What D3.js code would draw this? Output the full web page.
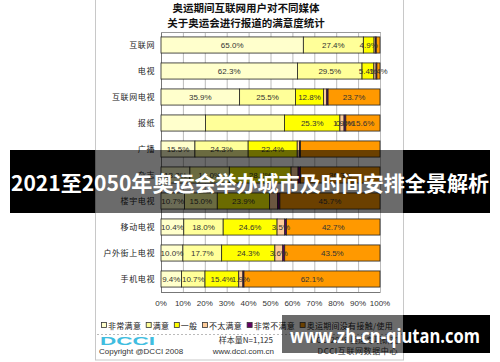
<!DOCTYPE html>
<html>
<head>
<meta charset="utf-8">
<title>奥运期间互联网用户媒体满意度</title>
<script src="https://cdnjs.cloudflare.com/ajax/libs/d3/7.8.5/d3.min.js"></script>
<style>
  body { margin: 0; background: #fff; }
  svg { display: block; }
</style>
</head>
<body>
<div id="chart"></div>
<script>
// data
var categories = ["互联网", "电视", "互联网电视", "报纸", "广播", "杂志", "楼宇电视", "移动电视", "户外街上电视", "手机电视"];
var seriesNames = ["非常满意", "满意", "一般", "不太满意", "非常不满意", "奥运期间没有接触/使用"];
var verySatisfied   = [65.0, 62.3, 35.9, 20.3, 15.5, 13.2, 10.7, 10.4, 10.0, 9.4];
var satisfied       = [27.4, 29.5, 25.5, 36.1, 24.3, 18.0, 15.0, 18.0, 17.7, 10.7];
var neutral         = [4.9, 5.4, 12.8, 25.3, 22.4, 28.2, 23.9, 24.6, 24.3, 15.4];
var unsatisfied     = [0.6, 1.0, 1.5, 1.9, 1.0, 3.2, 3.6, 3.5, 3.6, 1.9];
var veryUnsatisfied = [0.4, 0.4, 0.6, 0.8, 0.5, 1.1, 1.1, 0.8, 0.9, 0.5];
var notUsed         = [1.7, 1.4, 23.7, 15.6, 36.3, 36.3, 45.7, 42.7, 43.5, 62.1];
var xTicks = [0, 10, 20, 30, 40, 50, 60, 70, 80, 90, 100];
// labels the original leaves out / forces in
var hiddenLabels = ["报纸-0", "报纸-1", "广播-5", "杂志-3", "楼宇电视-3"];
var forcedLabels = ["报纸-4", "电视-5"];

var colors = ["#FFFFCC", "#FFFF99", "#FFFF00", "#FFCC99", "#660066", "#FF9900"];
var allSeries = [verySatisfied, satisfied, neutral, unsatisfied, veryUnsatisfied, notUsed];

var W = 500, H = 362;
var svg = d3.select("#chart").append("svg").attr("width", W).attr("height", H);
svg.append("rect").attr("width", W).attr("height", H).attr("fill", "#fff");

// panel frame
svg.append("rect").attr("x", 95.5).attr("y", -2).attr("width", 308).attr("height", 362)
    .attr("fill", "#fff").attr("stroke", "#c8c8c8");

var cjk = "'Noto Sans CJK SC', 'Noto Sans', sans-serif";
var lat = "'Liberation Sans', 'DejaVu Sans', sans-serif";

// title
svg.append("text").attr("x", 246).attr("y", 11.5).attr("text-anchor", "middle")
    .attr("font-family", cjk).attr("font-size", 10.5).attr("font-weight", "bold").attr("fill", "#111")
    .text("奥运期间互联网用户对不同媒体");
svg.append("text").attr("x", 246).attr("y", 26.5).attr("text-anchor", "middle")
    .attr("font-family", cjk).attr("font-size", 10.5).attr("font-weight", "bold").attr("fill", "#111")
    .text("关于奥运会进行报道的满意度统计");

var x = d3.scaleLinear().domain([0, 100]).range([161, 380]);
var y = d3.scaleBand().domain(categories).range([32, 292]).paddingInner(0.38).paddingOuter(0.19);

// grid
var g = svg.append("g");
g.selectAll("line.grid").data(xTicks).enter().append("line")
    .attr("x1", d => x(d) + 0.5).attr("x2", d => x(d) + 0.5)
    .attr("y1", 32).attr("y2", 292)
    .attr("stroke", d => d === 0 ? "#777" : "#bbb").attr("stroke-width", 1);
g.append("line").attr("x1", 161).attr("x2", 380.5).attr("y1", 32.5).attr("y2", 32.5).attr("stroke", "#999");
g.append("line").attr("x1", 161).attr("x2", 380.5).attr("y1", 292.5).attr("y2", 292.5).attr("stroke", "#777");

// stacked segments
var stackData = categories.map(function (c, i) {
    var o = { cat: c };
    seriesNames.forEach(function (s, j) { o[s] = allSeries[j][i]; });
    return o;
});
var stack = d3.stack().keys(seriesNames)(stackData);

var layers = svg.selectAll("g.layer").data(stack).enter().append("g")
    .attr("fill", (d, i) => colors[i]);
layers.selectAll("rect").data(d => d).enter().append("rect")
    .attr("x", d => x(d[0]))
    .attr("y", d => y(d.data.cat))
    .attr("width", d => x(d[1]) - x(d[0]))
    .attr("height", y.bandwidth())
    .attr("stroke", "#222").attr("stroke-width", 0.8);

// segment labels
stack.forEach(function (layer, j) {
    layer.forEach(function (d) {
        var key = d.data.cat + "-" + j;
        var v = d[1] - d[0];
        var show = (v >= 1.8 && hiddenLabels.indexOf(key) < 0) || forcedLabels.indexOf(key) >= 0;
        if (!show) return;
        svg.append("text")
            .attr("x", (x(d[0]) + x(d[1])) / 2)
            .attr("y", y(d.data.cat) + y.bandwidth() / 2 + 3)
            .attr("text-anchor", "middle")
            .attr("font-family", lat).attr("font-size", 8).attr("fill", "#333")
            .text(allSeries[j][categories.indexOf(d.data.cat)].toFixed(1) + "%");
    });
});

// category labels
svg.selectAll("text.cat").data(categories).enter().append("text")
    .attr("x", 155).attr("y", d => y(d) + y.bandwidth() / 2 + 3)
    .attr("text-anchor", "end")
    .attr("font-family", cjk).attr("font-size", 8).attr("letter-spacing", 0.6).attr("fill", "#222")
    .text(d => d);

// x tick labels
svg.selectAll("text.tick").data(xTicks).enter().append("text")
    .attr("x", d => x(d)).attr("y", 306).attr("text-anchor", "middle")
    .attr("font-family", lat).attr("font-size", 8).attr("fill", "#333")
    .text(d => d + "%");

// legend
var lx = 101;
seriesNames.forEach(function (s, i) {
    svg.append("rect").attr("x", lx + 0.5).attr("y", 322.5).attr("width", 5).attr("height", 5)
        .attr("fill", colors[i]).attr("stroke", "#333").attr("stroke-width", 0.8);
    var t = svg.append("text").attr("x", lx + 7).attr("y", 328.5)
        .attr("font-family", cjk).attr("font-size", 8).attr("letter-spacing", 0.3).attr("fill", "#222")
        .text(s);
    lx += 7 + t.node().getComputedTextLength() + 4.5;
});

// footer
svg.append("line").attr("x1", 97).attr("x2", 402).attr("y1", 334.5).attr("y2", 334.5)
    .attr("stroke", "#bbb").attr("stroke-dasharray", "2,2");
svg.append("text").attr("x", 100).attr("y", 345).attr("font-family", lat).attr("font-size", 11)
    .attr("font-weight", "bold").attr("fill", "#40BDE0").attr("textLength", 55)
    .attr("lengthAdjust", "spacingAndGlyphs").text("DCCI");
svg.append("text").attr("x", 99).attr("y", 353.5).attr("font-family", lat).attr("font-size", 8)
    .attr("fill", "#333").text("Copyright @DCCI 2008");
svg.append("text").attr("x", 273).attr("y", 342.5).attr("text-anchor", "end").attr("font-family", cjk)
    .attr("font-size", 8).attr("fill", "#333").text("样本量N=1,125");
svg.append("text").attr("x", 274).attr("y", 353.5).attr("text-anchor", "end").attr("font-family", lat)
    .attr("font-size", 8).attr("fill", "#333").text("www.dcci.com.cn");
svg.append("text").attr("x", 398).attr("y", 342.5).attr("text-anchor", "end").attr("font-family", cjk)
    .attr("font-size", 8).attr("fill", "#333").text("DCCI 2008 奥运专项研究");
svg.append("text").attr("x", 398).attr("y", 353.5).attr("text-anchor", "end").attr("font-family", cjk)
    .attr("font-size", 8).attr("letter-spacing", 0.6).attr("fill", "#333").text("DCCI互联网数据中心");

// overlay banner
svg.append("rect").attr("x", 10).attr("y", 150).attr("width", 85).attr("height", 63).attr("fill", "#000");
svg.append("rect").attr("x", 95).attr("y", 150).attr("width", 308).attr("height", 63).attr("fill", "#000").attr("opacity", 0.58);
svg.append("rect").attr("x", 403).attr("y", 150).attr("width", 87).attr("height", 63).attr("fill", "#000");
svg.append("text").attr("x", 250).attr("y", 191).attr("text-anchor", "middle")
    .attr("font-family", cjk).attr("font-size", 21).attr("font-weight", "bold").attr("fill", "#fff")
    .attr("textLength", 478).attr("lengthAdjust", "spacingAndGlyphs")
    .text("2021至2050年奥运会举办城市及时间安排全景解析");

// watermark
svg.append("rect").attr("x", 282).attr("y", 315).attr("width", 121).attr("height", 38).attr("fill", "#000").attr("opacity", 0.58);
svg.append("rect").attr("x", 403).attr("y", 315).attr("width", 87).attr("height", 38).attr("fill", "#000");
svg.append("text").attr("x", 385).attr("y", 343).attr("text-anchor", "middle")
    .attr("font-family", "'Open Sans', 'Noto Sans', sans-serif").attr("font-size", 20).attr("font-weight", "bold")
    .attr("fill", "#fff").attr("textLength", 190).attr("lengthAdjust", "spacingAndGlyphs")
    .text("www.zh-cn-qiutan.com");
</script>
</body>
</html>
